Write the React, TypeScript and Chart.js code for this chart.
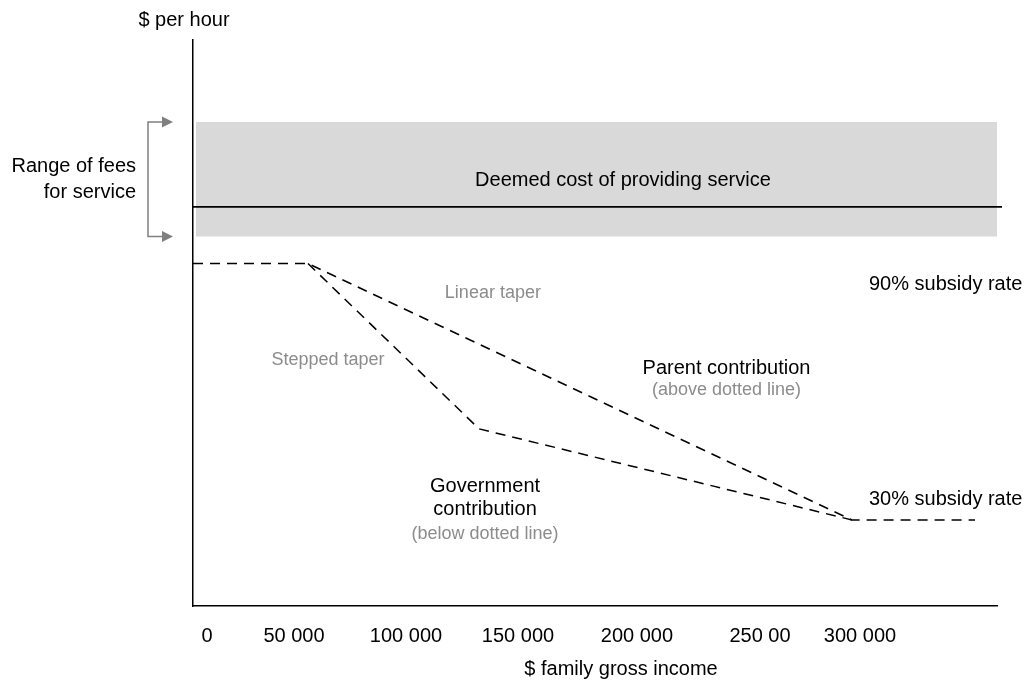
import React, { useEffect, useRef } from 'react';
import { Chart, registerables, LinearScale } from 'chart.js';

// ---------- data ----------
const TICK_VALUES = [0, 50000, 100000, 150000, 200000, 250000, 300000];
const TICK_LABELS = ['0', '50 000', '100 000', '150 000', '200 000', '250 00', '300 000'];

const X_MIN = -8000;
const X_MAX = 368500;

const FEE_RANGE_X = [-6300, 371000];
const FEE_RANGE_HIGH = [85.5, 85.5];
const FEE_RANGE_LOW = 65.3;

const DEEMED_COST_X = [X_MIN, 371000];
const DEEMED_COST_Y = [70.5, 70.5];

const LINEAR_TAPER_X = [X_MIN, 56250, 296000, 357500];
const LINEAR_TAPER_Y = [60.5, 60.5, 15.2, 15.2];

const STEPPED_TAPER_X = [56250, 132600, 296000];
const STEPPED_TAPER_Y = [60.5, 31.3, 15.2];

const Y_TITLE = '$ per hour';
const X_TITLE = '$ family gross income';

// text annotations placed in data coordinates
const LABEL_TEXT = [
  'Deemed cost of providing service',
  '90% subsidy rate',
  '30% subsidy rate',
  'Parent contribution',
  '(above dotted line)',
  'Linear taper',
  'Stepped taper',
  'Government',
  'contribution',
  '(below dotted line)',
];
const LABEL_X = [194100, 304500, 304500, 236400, 236400, 138800, 65200, 135300, 135300, 135300];
const LABEL_Y = [74.2, 55.9, 17.9, 41.0, 37.3, 54.5, 42.5, 20.1, 16.0, 11.9];

// ---------- layout / style ----------
const FONT = '"Liberation Sans", Arial, Helvetica, sans-serif';
const LABEL_STYLE = [
  { size: 20, color: '#000000', align: 'center' },
  { size: 20, color: '#000000', align: 'left' },
  { size: 20, color: '#000000', align: 'left' },
  { size: 20, color: '#000000', align: 'center' },
  { size: 18, color: '#8c8c8c', align: 'center' },
  { size: 18, color: '#8c8c8c', align: 'center' },
  { size: 18, color: '#8c8c8c', align: 'center' },
  { size: 20, color: '#000000', align: 'center' },
  { size: 20, color: '#000000', align: 'center' },
  { size: 18, color: '#8c8c8c', align: 'center' },
];

// hand-drawn axis: fraction of the axis length where each income anchor sits
const AXIS_ANCHOR_INCOME = [X_MIN, 0, 50000, 100000, 150000, 200000, 250000, 300000, X_MAX];
const AXIS_ANCHOR_POS = [0, 0.0174, 0.1256, 0.2649, 0.4042, 0.5522, 0.7052, 0.8296, 1];

function interp(v: number, xs: number[], ys: number[]) {
  let i = 1;
  while (i < xs.length - 1 && v > xs[i]) i++;
  const x0 = xs[i - 1], x1 = xs[i], y0 = ys[i - 1], y1 = ys[i];
  return y0 + ((v - x0) * (y1 - y0)) / (x1 - x0);
}

class AnchoredScale extends LinearScale {
  getPixelForValue(value: any) {
    if (value === null || value === undefined || isNaN(value)) return NaN;
    return this.getPixelForDecimal(interp(value, AXIS_ANCHOR_INCOME, AXIS_ANCHOR_POS));
  }
  getValueForPixel(pixel: number) {
    return interp(this.getDecimalForPixel(pixel), AXIS_ANCHOR_POS, AXIS_ANCHOR_INCOME);
  }
}
(AnchoredScale as any).id = 'anchored';
(AnchoredScale as any).defaults = {};

Chart.register(...registerables, AnchoredScale as any);

const pts = (xs: number[], ys: number[]) => xs.map((x, i) => ({ x, y: ys[i] }));

const annotationPlugin = {
  id: 'diagramText',
  afterDatasetsDraw(chart: any) {
    const { ctx, chartArea } = chart;
    const x = chart.scales.x;
    const y = chart.scales.y;
    ctx.save();
    ctx.textBaseline = 'alphabetic';
    LABEL_TEXT.forEach((t, i) => {
      const s = LABEL_STYLE[i];
      ctx.font = `${s.size}px ${FONT}`;
      ctx.fillStyle = s.color;
      ctx.textAlign = s.align;
      ctx.fillText(t, x.getPixelForValue(LABEL_X[i]), y.getPixelForValue(LABEL_Y[i]));
    });

    // axis titles
    ctx.font = `20px ${FONT}`;
    ctx.fillStyle = '#000000';
    ctx.textAlign = 'center';
    ctx.fillText(Y_TITLE, chartArea.left - 9, chartArea.top - 14);
    ctx.fillText(X_TITLE, chartArea.left + 428, chartArea.bottom + 69);

    // fee-range bracket
    const yTop = y.getPixelForValue(FEE_RANGE_HIGH[0]);
    const yBot = y.getPixelForValue(FEE_RANGE_LOW);
    const bx = chartArea.left - 45;
    const tip = chartArea.left - 20;
    ctx.strokeStyle = '#808080';
    ctx.fillStyle = '#808080';
    ctx.lineWidth = 1.5;
    ctx.beginPath();
    ctx.moveTo(tip - 10, yTop);
    ctx.lineTo(bx, yTop);
    ctx.lineTo(bx, yBot);
    ctx.lineTo(tip - 10, yBot);
    ctx.stroke();
    [yTop, yBot].forEach((yy) => {
      ctx.beginPath();
      ctx.moveTo(tip, yy);
      ctx.lineTo(tip - 11, yy - 5.5);
      ctx.lineTo(tip - 11, yy + 5.5);
      ctx.closePath();
      ctx.fill();
    });

    const yMid = (yTop + yBot) / 2;
    ctx.fillStyle = '#000000';
    ctx.textAlign = 'right';
    ctx.fillText('Range of fees', chartArea.left - 57, yMid - 7.7);
    ctx.fillText('for service', chartArea.left - 57, yMid + 18.3);
    ctx.restore();
  },
};

export default function App() {
  const ref = useRef<HTMLCanvasElement | null>(null);
  useEffect(() => {
    document.body.style.margin = '0';
    const canvas = ref.current;
    if (!canvas) return;
    const dashed = {
      borderColor: '#000000',
      borderWidth: 1.5,
      borderDash: [10, 7],
      pointRadius: 0,
      tension: 0,
      fill: false,
    };
    const chart = new Chart(canvas, {
      type: 'line',
      data: {
        datasets: [
          { label: 'Linear taper', data: pts(LINEAR_TAPER_X, LINEAR_TAPER_Y), ...dashed } as any,
          { label: 'Stepped taper', data: pts(STEPPED_TAPER_X, STEPPED_TAPER_Y), ...dashed } as any,
          {
            label: 'Deemed cost',
            data: pts(DEEMED_COST_X, DEEMED_COST_Y),
            borderColor: '#000000',
            borderWidth: 1.8,
            pointRadius: 0,
            fill: false,
            clip: false,
            order: 5,
          },
          {
            label: 'Range of fees',
            data: pts(FEE_RANGE_X, FEE_RANGE_HIGH),
            borderWidth: 0,
            borderColor: 'rgba(0,0,0,0)',
            backgroundColor: '#d9d9d9',
            pointRadius: 0,
            fill: { value: FEE_RANGE_LOW },
            clip: false,
            order: 10,
          },
        ],
      },
      options: {
        animation: false,
        responsive: false,
        devicePixelRatio: 1,
        layout: { padding: { left: 193, top: 40, right: 30, bottom: 22 } },
        plugins: {
          legend: { display: false },
          tooltip: { enabled: false },
          filler: { propagate: false },
        },
        scales: {
          x: {
            type: 'anchored' as any,
            min: X_MIN,
            max: X_MAX,
            afterBuildTicks: (scale: any) => {
              scale.ticks = TICK_VALUES.map((v) => ({ value: v }));
            },
            grid: { display: false, drawTicks: false },
            border: { display: true, color: '#000000', width: 1.5 },
            ticks: {
              autoSkip: false,
              maxRotation: 0,
              padding: 18,
              color: '#000000',
              font: { family: FONT, size: 20 },
              callback: (_v: any, i: number) => TICK_LABELS[i],
            },
          },
          y: {
            type: 'linear',
            min: 0,
            max: 100,
            grid: { display: false, drawTicks: false },
            border: { display: true, color: '#000000', width: 1.5 },
            ticks: { display: false },
          },
        },
      },
      plugins: [annotationPlugin],
    } as any);
    return () => chart.destroy();
  }, []);
  return (
    <div style={{ width: 1027, height: 688, overflow: 'hidden', background: '#ffffff' }}>
      <canvas ref={ref} width={1027} height={688} style={{ display: 'block' }} />
    </div>
  );
}
